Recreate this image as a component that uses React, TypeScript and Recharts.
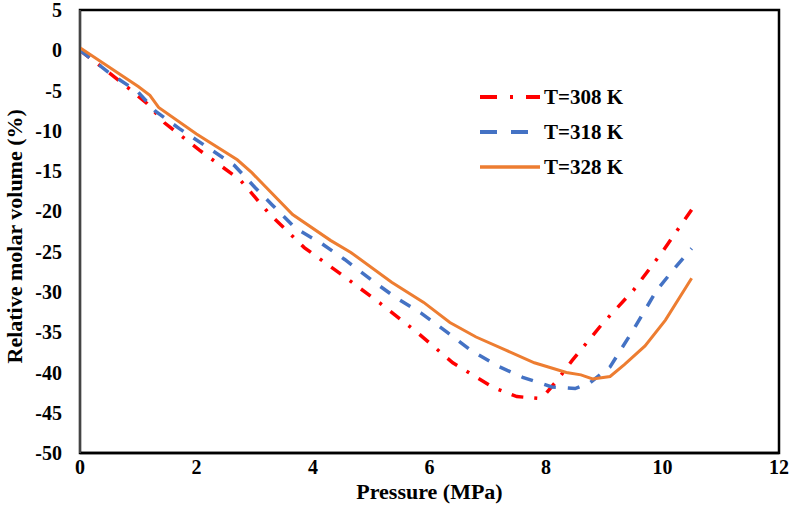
import { Line, LineChart, ReferenceArea, XAxis, YAxis } from 'recharts'

const xTicks = [0, 2, 4, 6, 8, 10, 12]
const yTicks = [5, 0, -5, -10, -15, -20, -25, -30, -35, -40, -45, -50]

const pressure308 = [0, 0.25, 0.5, 0.8, 1.15, 1.45, 2.05, 2.75, 3.25, 3.85, 4.5, 5.15, 5.8, 6.4, 7.1, 7.5, 7.85, 8.0, 8.2, 8.45, 8.95, 9.5, 10.0, 10.5]
const volume308 = [0, -1.4, -2.8, -4.5, -6.6, -9.0, -12.4, -16.1, -20.3, -24.5, -27.9, -31.4, -35.1, -38.8, -41.9, -43.0, -43.2, -42.6, -40.9, -38.5, -34.1, -29.8, -25.0, -19.8]

const pressure318 = [0, 0.5, 1.0, 1.3, 1.7, 2.2, 2.65, 3.0, 3.3, 3.7, 4.15, 4.55, 5.0, 5.4, 5.85, 6.3, 6.7, 7.2, 7.6, 8.1, 8.5, 8.75, 9.1, 9.5, 9.9, 10.25, 10.5]
const volume318 = [0, -2.8, -5.2, -7.6, -9.7, -12.1, -14.3, -17.0, -19.2, -22.1, -24.0, -26.0, -28.5, -30.6, -32.6, -35.0, -37.2, -39.3, -40.6, -41.8, -42.0, -41.3, -39.3, -34.7, -29.8, -26.7, -24.6]

const pressure328 = [0, 0.4, 1.0, 1.2, 1.35, 2.0, 2.7, 2.95, 3.65, 4.3, 4.65, 5.35, 5.9, 6.35, 6.8, 7.3, 7.8, 8.35, 8.6, 8.8, 9.1, 9.35, 9.7, 10.05, 10.5]
const volume328 = [0.3, -1.6, -4.5, -5.6, -7.1, -10.4, -13.6, -15.2, -20.4, -23.6, -25.1, -28.8, -31.3, -33.8, -35.6, -37.2, -38.8, -40.0, -40.3, -40.8, -40.5, -39.0, -36.7, -33.5, -28.3]

const toPoints = (xs: number[], ys: number[]) => xs.map((x, i) => ({ x, y: ys[i] }))

const series = [
  { name: 'T=308 K', data: toPoints(pressure308, volume308), color: '#FF0000', dash: '12 11 3 11', legendDash: '17 13 3 13', width: 3.5 },
  { name: 'T=318 K', data: toPoints(pressure318, volume318), color: '#4472C4', dash: '12 12', legendDash: '17 14', width: 3.5 },
  { name: 'T=328 K', data: toPoints(pressure328, volume328), color: '#ED7D31', dash: undefined, legendDash: undefined, width: 3 },
]

const font = '"Liberation Serif", "Times New Roman", serif'
const tickStyle = { fontSize: 20, fontWeight: 'bold', fill: '#000', fontFamily: font }

// legend drawn as an overlay so it does not eat plot space
function LegendBox() {
  return (
    <svg width={200} height={110} style={{ position: 'absolute', left: 474, top: 80 }}>
      {series.map((s, i) => (
        <g key={s.name} transform={`translate(0, ${i * 35 + 17})`}>
          <line x1={6} x2={66} y1={0} y2={0} stroke={s.color} strokeWidth={s.width + 0.5} strokeDasharray={s.legendDash} />
          <text x={70} y={7} fontFamily={font} fontWeight="bold" fontSize={21} fill="#000">{s.name}</text>
        </g>
      ))}
    </svg>
  )
}

export default function App() {
  return (
    <div style={{ position: 'absolute', left: 0, top: 0, width: 792, height: 528, fontFamily: font }}>
      <LineChart width={792} height={528} margin={{ top: 10, right: 13, bottom: 35, left: 22 }}>
        <XAxis
          type="number"
          dataKey="x"
          domain={[0, 12]}
          ticks={xTicks}
          interval={0}
          tickLine={false}
          axisLine={{ stroke: '#000', strokeWidth: 2.5 }}
          tick={tickStyle}
          tickMargin={1}
          height={40}
          label={{ value: 'Pressure (MPa)', position: 'insideBottom', offset: -6, fontSize: 22, fontWeight: 'bold', fill: '#000', fontFamily: font }}
        />
        <YAxis
          type="number"
          dataKey="y"
          domain={[-50, 5]}
          ticks={yTicks}
          interval={0}
          tickLine={false}
          axisLine={{ stroke: '#444', strokeWidth: 2 }}
          tick={tickStyle}
          tickMargin={12}
          width={58}
          label={{ value: 'Relative molar volume (%)', angle: -90, position: 'insideLeft', offset: -8, dy: 132, fontSize: 22, fontWeight: 'bold', fill: '#000', fontFamily: font }}
        />
        <ReferenceArea x1={0} x2={12} y1={-50} y2={5} fill="none" stroke="#000" strokeWidth={2.5} ifOverflow="visible" />
        {series.map((s) => (
          <Line
            key={s.name}
            data={s.data}
            dataKey="y"
            name={s.name}
            type="linear"
            stroke={s.color}
            strokeWidth={s.width}
            strokeDasharray={s.dash}
            dot={false}
            isAnimationActive={false}
          />
        ))}
      </LineChart>
      <LegendBox />
    </div>
  )
}
